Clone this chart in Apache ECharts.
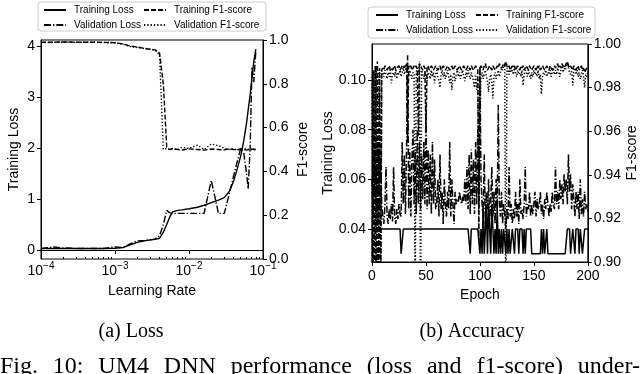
<!DOCTYPE html>
<html>
<head>
<meta charset="utf-8">
<script src="https://cdn.jsdelivr.net/npm/echarts@6/dist/echarts.min.js"></script>
<style>
  html, body { margin: 0; padding: 0; background: #fff; }
  #chart { width: 640px; height: 374px; }
</style>
</head>
<body>
<div id="chart"></div>
<script>
// (a) learning-rate sweep
const lrGrid = [1e-4, 1.5e-4, 2e-4, 3e-4, 5e-4, 7e-4, 1e-3, 1.3e-3, 1.6e-3, 2e-3,
  2.5e-3, 3e-3, 3.5e-3, 4e-3, 4.5e-3, 5e-3, 5.5e-3, 6e-3, 7e-3, 8e-3,
  1e-2, 1.3e-2, 1.6e-2, 2e-2, 2.5e-2, 3e-2, 3.5e-2, 4e-2, 4.5e-2, 5e-2,
  5.5e-2, 6e-2, 6.3e-2, 6.7e-2, 7.1e-2, 7.5e-2, 8e-2];
const lrTrainLoss = [0.03, 0.03, 0.03, 0.03, 0.03, 0.03, 0.035, 0.05, 0.10, 0.15,
  0.18, 0.20, 0.21, 0.23, 0.35, 0.50, 0.65, 0.75, 0.78, 0.79,
  0.81, 0.84, 0.88, 0.93, 0.98, 1.03, 1.15, 1.35, 1.60, 1.85,
  2.15, 2.50, 2.75, 3.05, 3.40, 3.70, 3.95];
const lrValLoss = [0.03, 0.06, 0.04, 0.03, 0.03, 0.03, 0.06, 0.05, 0.12, 0.18,
  0.19, 0.20, 0.22, 0.28, 0.50, 0.78, 0.73, 0.72, 0.72, 0.72,
  0.72, 0.72, 0.72, 1.37, 0.72, 0.72, 1.10, 1.45, 1.75, 2.00,
  1.90, 1.50, 1.20, 2.00, 3.60, 3.30, 3.90];
const lrTrainF1 = [0.990, 0.990, 0.991, 0.990, 0.990, 0.989, 0.988, 0.982, 0.972, 0.968,
  0.962, 0.958, 0.955, 0.940, 0.800, 0.510, 0.500, 0.505, 0.500, 0.498,
  0.503, 0.500, 0.497, 0.502, 0.500, 0.498, 0.503, 0.500, 0.499, 0.502,
  0.500, 0.497, 0.501, 0.500, 0.498, 0.502, 0.500];
const lrValF1 = [0.988, 0.989, 0.990, 0.989, 0.990, 0.988, 0.987, 0.980, 0.970, 0.966,
  0.960, 0.957, 0.953, 0.930, 0.500, 0.505, 0.498, 0.502, 0.500, 0.510,
  0.505, 0.520, 0.500, 0.525, 0.518, 0.505, 0.500, 0.503, 0.498, 0.500,
  0.505, 0.500, 0.497, 0.502, 0.500, 0.498, 0.500];
const lrMinorTicks = [2e-4, 3e-4, 4e-4, 5e-4, 6e-4, 7e-4, 8e-4, 9e-4,
  2e-3, 3e-3, 4e-3, 5e-3, 6e-3, 7e-3, 8e-3, 9e-3,
  2e-2, 3e-2, 4e-2, 5e-2, 6e-2, 7e-2, 8e-2, 9e-2];

// (b) epochs 0..200
const epTrainLoss = [
  0.04, 0.04, 0.04, 0.04, 0.04, 0.04, 0.04, 0.04, 0.04, 0.04,
  0.04, 0.04, 0.04, 0.04, 0.04, 0.04, 0.04, 0.04, 0.04, 0.04,
  0.04, 0.04, 0.04, 0.04, 0.04, 0.04, 0.04, 0.03, 0.03, 0.04,
  0.04, 0.04, 0.04, 0.04, 0.04, 0.04, 0.04, 0.04, 0.04, 0.04,
  0.04, 0.04, 0.04, 0.04, 0.04, 0.04, 0.04, 0.04, 0.04, 0.04,
  0.04, 0.04, 0.04, 0.04, 0.04, 0.04, 0.04, 0.04, 0.04, 0.04,
  0.04, 0.04, 0.04, 0.04, 0.04, 0.04, 0.04, 0.04, 0.04, 0.04,
  0.04, 0.04, 0.04, 0.04, 0.04, 0.04, 0.04, 0.04, 0.04, 0.04,
  0.04, 0.04, 0.04, 0.04, 0.04, 0.04, 0.04, 0.04, 0.04, 0.04,
  0.04, 0.03, 0.04, 0.04, 0.04, 0.04, 0.04, 0.04, 0.04, 0.04,
  0.03, 0.04, 0.03, 0.05, 0.03, 0.04, 0.05, 0.03, 0.05, 0.04,
  0.03, 0.05, 0.04, 0.03, 0.04, 0.03, 0.05, 0.03, 0.04, 0.03,
  0.04, 0.03, 0.04, 0.04, 0.03, 0.04, 0.03, 0.04, 0.03, 0.03,
  0.04, 0.04, 0.03, 0.04, 0.04, 0.04, 0.03, 0.04, 0.04, 0.04,
  0.03, 0.04, 0.03, 0.04, 0.04, 0.04, 0.04, 0.04, 0.03, 0.03,
  0.03, 0.03, 0.03, 0.03, 0.03, 0.03, 0.03, 0.04, 0.03, 0.04,
  0.03, 0.03, 0.04, 0.03, 0.03, 0.03, 0.03, 0.03, 0.03, 0.03,
  0.03, 0.03, 0.03, 0.03, 0.03, 0.03, 0.03, 0.03, 0.03, 0.03,
  0.03, 0.04, 0.04, 0.04, 0.03, 0.03, 0.04, 0.04, 0.03, 0.04,
  0.04, 0.04, 0.03, 0.04, 0.04, 0.03, 0.03, 0.04, 0.04, 0.04,
  0.04];
const epValLoss = [
  0.060, 0.045, 0.070, 0.050, 0.065, 0.042, 0.075, 0.048, 0.068, 0.050,
  0.045, 0.042, 0.050, 0.065, 0.045, 0.042, 0.048, 0.044, 0.050, 0.043,
  0.065, 0.045, 0.042, 0.048, 0.044, 0.050, 0.046, 0.045, 0.075, 0.050,
  0.070, 0.046, 0.072, 0.110, 0.048, 0.072, 0.045, 0.068, 0.080, 0.050,
  0.072, 0.046, 0.080, 0.050, 0.075, 0.048, 0.070, 0.052, 0.075, 0.050,
  0.090, 0.048, 0.072, 0.050, 0.070, 0.046, 0.075, 0.050, 0.068, 0.048,
  0.050, 0.060, 0.045, 0.070, 0.048, 0.055, 0.042, 0.060, 0.050, 0.045,
  0.055, 0.048, 0.075, 0.045, 0.060, 0.050, 0.042, 0.055, 0.050, 0.052,
  0.051, 0.055, 0.052, 0.050, 0.053, 0.051, 0.060, 0.050, 0.065, 0.048,
  0.070, 0.046, 0.072, 0.050, 0.068, 0.046, 0.075, 0.050, 0.080, 0.048,
  0.105, 0.060, 0.050, 0.045, 0.070, 0.042, 0.055, 0.048, 0.060, 0.044,
  0.050, 0.065, 0.045, 0.055, 0.042, 0.060, 0.048, 0.090, 0.050, 0.045,
  0.055, 0.042, 0.050, 0.046, 0.040, 0.048, 0.044, 0.065, 0.045, 0.050,
  0.042, 0.048, 0.044, 0.055, 0.045, 0.050, 0.042, 0.060, 0.046, 0.048,
  0.044, 0.050, 0.065, 0.045, 0.050, 0.048, 0.055, 0.045, 0.050, 0.046,
  0.050, 0.055, 0.045, 0.052, 0.048, 0.050, 0.055, 0.046, 0.050, 0.044,
  0.052, 0.048, 0.055, 0.050, 0.045, 0.050, 0.047, 0.055, 0.050, 0.048,
  0.065, 0.050, 0.055, 0.048, 0.060, 0.052, 0.058, 0.050, 0.062, 0.055,
  0.060, 0.050, 0.070, 0.055, 0.062, 0.048, 0.058, 0.052, 0.045, 0.055,
  0.048, 0.055, 0.044, 0.060, 0.046, 0.052, 0.045, 0.055, 0.048, 0.050,
  0.047];
const epTrainF1 = [
  0.880, 0.988, 0.870, 0.990, 0.860, 0.992, 0.875, 0.989, 0.865, 0.988,
  0.989, 0.988, 0.990, 0.989, 0.988, 0.989, 0.990, 0.988, 0.989, 0.988,
  0.989, 0.990, 0.988, 0.989, 0.989, 0.990, 0.988, 0.989, 0.990, 0.989,
  0.990, 0.989, 0.991, 0.955, 0.990, 0.989, 0.990, 0.988, 0.989, 0.990,
  0.989, 0.990, 0.988, 0.958, 0.991, 0.990, 0.989, 0.988, 0.990, 0.989,
  0.960, 0.989, 0.990, 0.988, 0.989, 0.990, 0.989, 0.988, 0.989, 0.990,
  0.989, 0.988, 0.989, 0.990, 0.988, 0.989, 0.990, 0.989, 0.988, 0.989,
  0.990, 0.989, 0.988, 0.989, 0.990, 0.988, 0.989, 0.990, 0.989, 0.988,
  0.989, 0.990, 0.989, 0.988, 0.989, 0.990, 0.989, 0.988, 0.989, 0.990,
  0.989, 0.988, 0.990, 0.989, 0.988, 0.989, 0.990, 0.989, 0.988, 0.910,
  0.989, 0.990, 0.989, 0.988, 0.990, 0.991, 0.989, 0.988, 0.989, 0.990,
  0.989, 0.988, 0.990, 0.989, 0.988, 0.989, 0.990, 0.989, 0.991, 0.990,
  0.989, 0.990, 0.991, 0.990, 0.992, 0.990, 0.989, 0.990, 0.988, 0.989,
  0.990, 0.989, 0.990, 0.988, 0.989, 0.990, 0.989, 0.988, 0.990, 0.989,
  0.990, 0.988, 0.989, 0.990, 0.989, 0.988, 0.990, 0.989, 0.988, 0.989,
  0.990, 0.989, 0.988, 0.990, 0.989, 0.990, 0.988, 0.989, 0.990, 0.989,
  0.988, 0.989, 0.990, 0.989, 0.988, 0.990, 0.989, 0.988, 0.989, 0.990,
  0.989, 0.990, 0.991, 0.989, 0.990, 0.989, 0.991, 0.990, 0.989, 0.990,
  0.991, 0.992, 0.990, 0.989, 0.990, 0.989, 0.988, 0.990, 0.989, 0.988,
  0.989, 0.990, 0.988, 0.989, 0.990, 0.988, 0.989, 0.987, 0.988, 0.989,
  0.988];
const epValF1 = [
  0.985, 0.870, 0.988, 0.880, 0.990, 0.870, 0.987, 0.988, 0.860, 0.986,
  0.987, 0.985, 0.988, 0.986, 0.984, 0.987, 0.985, 0.988, 0.982, 0.986,
  0.987, 0.985, 0.988, 0.984, 0.987, 0.986, 0.988, 0.985, 0.987, 0.989,
  0.986, 0.988, 0.990, 0.987, 0.985, 0.988, 0.986, 0.984, 0.987, 0.986,
  0.880, 0.987, 0.989, 0.986, 0.992, 0.870, 0.988, 0.986, 0.984, 0.987,
  0.985, 0.983, 0.987, 0.986, 0.984, 0.988, 0.985, 0.987, 0.982, 0.986,
  0.988, 0.985, 0.983, 0.980, 0.986, 0.988, 0.985, 0.987, 0.984, 0.986,
  0.988, 0.985, 0.982, 0.986, 0.979, 0.985, 0.987, 0.983, 0.986, 0.988,
  0.985, 0.987, 0.984, 0.986, 0.988, 0.985, 0.983, 0.987, 0.985, 0.988,
  0.986, 0.984, 0.987, 0.985, 0.983, 0.980, 0.986, 0.979, 0.984, 0.930,
  0.960, 0.985, 0.987, 0.984, 0.986, 0.988, 0.985, 0.983, 0.978, 0.984,
  0.986, 0.983, 0.975, 0.985, 0.987, 0.984, 0.986, 0.988, 0.985, 0.987,
  0.989, 0.988, 0.990, 0.991, 0.860, 0.989, 0.988, 0.986, 0.989, 0.987,
  0.988, 0.986, 0.989, 0.987, 0.985, 0.988, 0.986, 0.987, 0.985, 0.988,
  0.981, 0.986, 0.988, 0.987, 0.985, 0.988, 0.986, 0.984, 0.987, 0.985,
  0.988, 0.986, 0.987, 0.985, 0.988, 0.984, 0.986, 0.977, 0.985, 0.987,
  0.986, 0.988, 0.985, 0.987, 0.986, 0.988, 0.985, 0.987, 0.989, 0.986,
  0.988, 0.986, 0.989, 0.987, 0.985, 0.988, 0.990, 0.987, 0.989, 0.988,
  0.990, 0.991, 0.989, 0.987, 0.986, 0.988, 0.981, 0.987, 0.989, 0.986,
  0.988, 0.985, 0.987, 0.984, 0.986, 0.988, 0.985, 0.980, 0.986, 0.985,
  0.987];

const lossTicksA = [0, 1, 2, 3, 4];
const lossTicksB = [0.04, 0.06, 0.08, 0.10];
const f1TicksB = [0.90, 0.92, 0.94, 0.96, 0.98, 1.00];
const captionWords = ['Fig.', '10:', 'UM4', 'DNN', 'performance', '(loss', 'and', 'f1-score)', 'under-'];

const FONT = 'Liberation Sans';
const DASHES = {
  solid: 'solid',
  dashed: [5, 2],
  dashdot: [7, 2, 1.3, 2],
  dotted: [1.3, 2]
};

function pairs(xs, ys) {
  return ys.map((v, i) => [xs[i], v]);
}
const epochs = epTrainLoss.map((_, i) => i);

function line(name, xi, yi, data, dash, width) {
  return {
    name: name,
    type: 'line',
    xAxisIndex: xi,
    yAxisIndex: yi,
    data: data,
    symbol: 'none',
    clip: true,
    animation: false,
    itemStyle: { color: '#000' },
    lineStyle: { color: '#000', width: width, type: dash }
  };
}

function axisCommon(extra) {
  return Object.assign({
    axisLine: { show: true, lineStyle: { color: '#000', width: 1 } },
    axisTick: { show: true, inside: false, length: 4, lineStyle: { color: '#000' } },
    splitLine: { show: false },
    nameLocation: 'middle',
    nameTextStyle: { color: '#000', fontFamily: FONT, fontSize: 14 }
  }, extra);
}
function label(extra) {
  return Object.assign({ color: '#000', fontFamily: FONT, fontSize: 14, margin: 6 }, extra);
}

function legend(names, left, top) {
  return {
    data: names,
    orient: 'vertical',
    left: left,
    top: top,
    padding: 0,
    itemGap: 5,
    itemWidth: 22,
    itemHeight: 10,
    selectedMode: false,
    itemStyle: { opacity: 0 },
    textStyle: { color: '#000', fontFamily: FONT, fontSize: 10, padding: [0, 0, 0, 3] }
  };
}

// caption line: justified across the page width like the paper's text
const capFont = '24px "Liberation Serif"';
const ctx = document.createElement('canvas').getContext('2d');
ctx.font = capFont;
const wordW = captionWords.map(w => ctx.measureText(w).width);
const gap = (640 - wordW.reduce((a, b) => a + b, 0)) / (captionWords.length - 1);
let cx = 0;
const captionEls = captionWords.map((w, i) => {
  const el = { type: 'text', x: cx, y: 355, style: { text: w, font: capFont, fill: '#000', verticalAlign: 'top' } };
  cx += wordW[i] + gap;
  return el;
});

const chart = echarts.init(document.getElementById('chart'), null, { renderer: 'canvas' });

chart.setOption({
  animation: false,
  backgroundColor: '#fff',
  grid: [
    { left: 41, top: 40, width: 222, height: 219, show: true, borderColor: '#000', borderWidth: 1 },
    { left: 372, top: 44, width: 221, height: 218, show: true, borderColor: '#000', borderWidth: 1 }
  ],
  xAxis: [
    axisCommon({
      gridIndex: 0, type: 'log', logBase: 10, min: 1e-4, max: 1e-1,
      name: 'Learning Rate', nameGap: 25,
      axisLabel: label({
        margin: 2,
        formatter: v => '{b|10}{s|\u2212' + Math.round(-Math.log10(v)) + '}',
        rich: {
          b: { fontFamily: FONT, fontSize: 14, lineHeight: 20, color: '#000' },
          s: { fontFamily: FONT, fontSize: 10, lineHeight: 10, verticalAlign: 'top', color: '#000' }
        }
      })
    }),
    axisCommon({
      gridIndex: 0, type: 'log', logBase: 10, min: 1e-4, max: 1e-1,
      axisLine: { show: false },
      axisLabel: { show: false },
      axisTick: { show: true, length: 2, customValues: lrMinorTicks, lineStyle: { color: '#000' } }
    }),
    axisCommon({
      gridIndex: 1, type: 'value', min: 0, max: 200, interval: 50,
      name: 'Epoch', nameGap: 24,
      axisLabel: label({ margin: 7 })
    })
  ],
  yAxis: [
    axisCommon({
      gridIndex: 0, type: 'value', min: -0.177, max: 4.13, position: 'left',
      name: 'Training Loss', nameRotate: 90, nameGap: 20,
      axisTick: { show: true, length: 4, customValues: lossTicksA, lineStyle: { color: '#000' } },
      axisLabel: label({ customValues: lossTicksA })
    }),
    axisCommon({
      gridIndex: 0, type: 'value', min: 0, max: 1, interval: 0.2, position: 'right',
      name: 'F1-score', nameRotate: 90, nameGap: 33,
      axisLabel: label({ formatter: v => v.toFixed(1) })
    }),
    axisCommon({
      gridIndex: 1, type: 'value', min: 0.0267, max: 0.1145, position: 'left',
      name: 'Training Loss', nameRotate: 90, nameGap: 37,
      axisTick: { show: true, length: 4, customValues: lossTicksB, lineStyle: { color: '#000' } },
      axisLabel: label({ customValues: lossTicksB, formatter: v => v.toFixed(2) })
    }),
    axisCommon({
      gridIndex: 1, type: 'value', min: 0.9, max: 1.0, position: 'right',
      name: 'F1-score', nameRotate: 90, nameGap: 37,
      axisTick: { show: true, length: 4, customValues: f1TicksB, lineStyle: { color: '#000' } },
      axisLabel: label({ customValues: f1TicksB, formatter: v => v.toFixed(2) })
    })
  ],
  legend: [
    legend(['Training Loss', 'Validation Loss'], 43, 5),
    legend(['Training F1-score', 'Validation F1-score'], 143, 5),
    legend(['Training Loss', 'Validation Loss'], 375, 10),
    legend(['Training F1-score', 'Validation F1-score'], 475, 10)
  ],
  series: [
    line('Training Loss', 0, 0, pairs(lrGrid, lrTrainLoss), DASHES.solid, 1.4),
    line('Validation Loss', 0, 0, pairs(lrGrid, lrValLoss), DASHES.dashdot, 1.4),
    line('Training F1-score', 0, 1, pairs(lrGrid, lrTrainF1), DASHES.dashed, 1.4),
    line('Validation F1-score', 0, 1, pairs(lrGrid, lrValF1), DASHES.dotted, 1.4),
    line('Training Loss', 2, 2, pairs(epochs, epTrainLoss), DASHES.solid, 1.5),
    line('Validation Loss', 2, 2, pairs(epochs, epValLoss), DASHES.dashdot, 1.5),
    line('Training F1-score', 2, 3, pairs(epochs, epTrainF1), DASHES.dashed, 1.5),
    line('Validation F1-score', 2, 3, pairs(epochs, epValF1), DASHES.dotted, 1.5)
  ],
  graphic: [
    { type: 'rect', shape: { x: 38, y: 2, width: 228, height: 29, r: 3 }, style: { fill: '#fff', stroke: '#cccccc', lineWidth: 1 }, z: 0 },
    { type: 'rect', shape: { x: 368, y: 7, width: 227, height: 31, r: 3 }, style: { fill: '#fff', stroke: '#cccccc', lineWidth: 1 }, z: 0 },
    { type: 'text', x: 131, y: 332, style: { text: '(a) Loss', font: '20px "Liberation Serif"', fill: '#000', align: 'center', verticalAlign: 'middle' } },
    { type: 'text', x: 472, y: 332, style: { text: '(b) Accuracy', font: '20px "Liberation Serif"', fill: '#000', align: 'center', verticalAlign: 'middle' } }
  ].concat(captionEls)
});
</script>
</body>
</html>
